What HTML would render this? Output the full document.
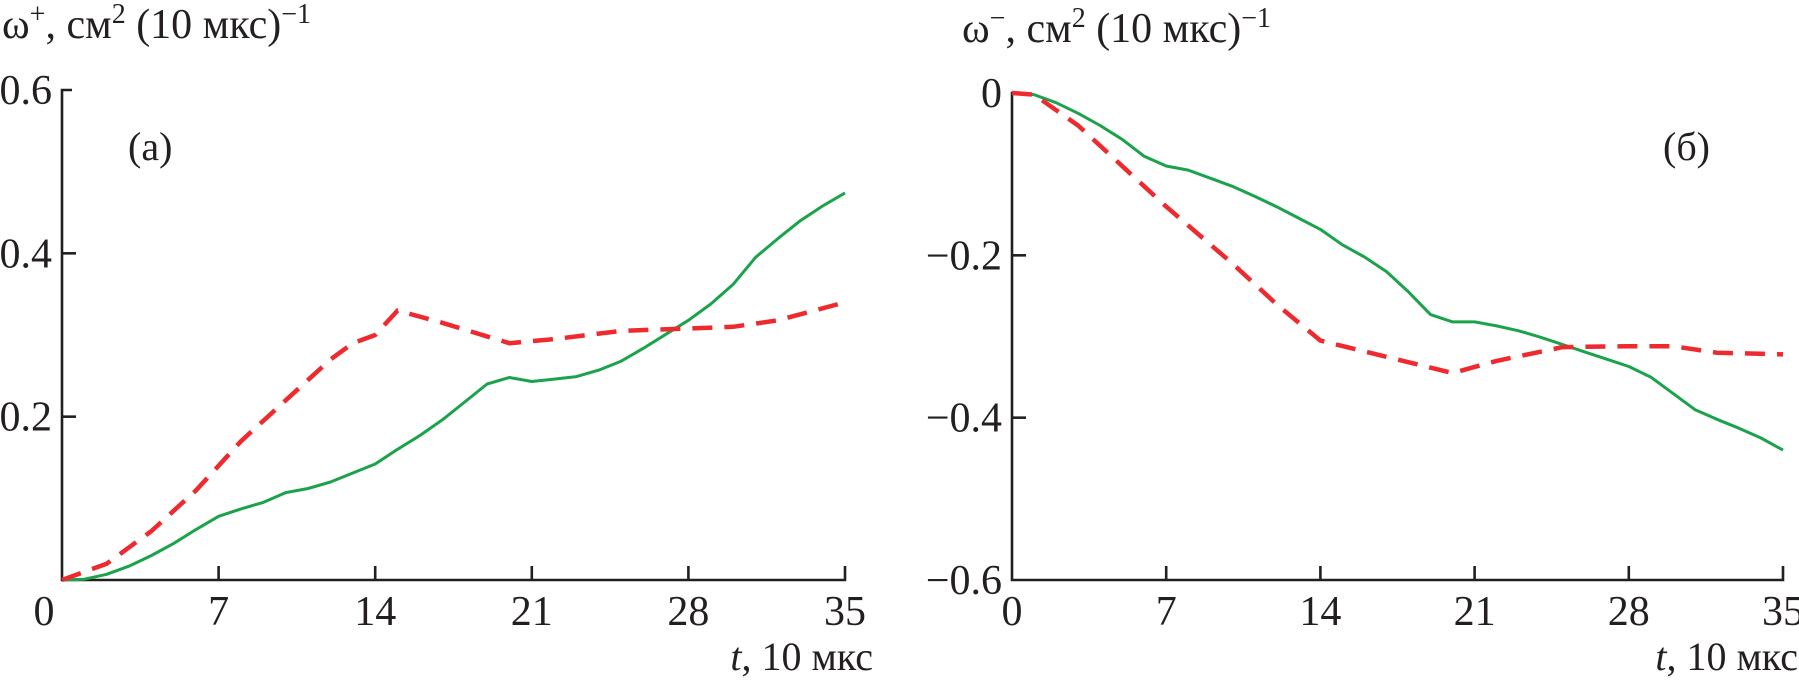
<!DOCTYPE html>
<html><head><meta charset="utf-8">
<style>
html,body{margin:0;padding:0;background:#fff;}
svg{display:block;}
text{font-family:"Liberation Serif",serif;fill:#231f20;}
</style></head>
<body>
<svg id="chart" width="1799" height="681" viewBox="0 0 1799 681" xmlns="http://www.w3.org/2000/svg"></svg>
<script>
const tTicks=[0,7,14,21,28,35];
const aYTicks=[0.2,0.4,0.6];
const aYLabels=["0.2","0.4","0.6"];
const bYTicks=[0,-0.2,-0.4,-0.6];
const bYLabels=["0","\u22120.2","\u22120.4","\u22120.6"];
const aGreenT=[0,1,2,3,4,5,6,7,8,9,10,11,12,13,14,15,16,17,18,19,20,21,22,23,24,25,26,27,28,29,30,31,32,33,34,35];
const aGreenV=[0,0.001,0.007,0.017,0.03,0.045,0.062,0.078,0.087,0.095,0.107,0.112,0.12,0.131,0.142,0.16,0.177,0.196,0.218,0.24,0.248,0.243,0.246,0.249,0.257,0.268,0.284,0.301,0.318,0.338,0.362,0.395,0.418,0.44,0.458,0.474];
const aRedT=[0,2,4,6,8,10,12,13,14,15,17,20,22,25,28,30,32,35];
const aRedV=[0,0.02,0.06,0.11,0.17,0.22,0.27,0.29,0.30,0.33,0.315,0.29,0.295,0.305,0.308,0.31,0.318,0.34];
const bGreenT=[0,1,2,3,4,5,6,7,8,9,10,11,12,13,14,15,16,17,18,19,20,21,22,23,24,25,26,27,28,29,30,31,32,33,34,35];
const bGreenV=[0,-0.002,-0.012,-0.025,-0.04,-0.057,-0.078,-0.09,-0.095,-0.105,-0.115,-0.127,-0.14,-0.154,-0.168,-0.187,-0.202,-0.22,-0.245,-0.273,-0.282,-0.282,-0.287,-0.293,-0.301,-0.31,-0.319,-0.328,-0.337,-0.35,-0.37,-0.39,-0.402,-0.413,-0.425,-0.44];
const bRedT=[0,1,3,7,10,12,14,17,20,22,25,28,30,32,35];
const bRedV=[0,-0.002,-0.04,-0.14,-0.21,-0.26,-0.305,-0.325,-0.345,-0.33,-0.313,-0.312,-0.312,-0.32,-0.322];

const svg=document.getElementById('chart');
const NS="http://www.w3.org/2000/svg";
function mk(tag,attrs,parent){const e=document.createElementNS(NS,tag);for(const k in attrs)e.setAttribute(k,attrs[k]);(parent||svg).appendChild(e);return e;}

function panel(p){
  const g=mk('g',{});
  
  
  const xs=t=>p.x0+(t-0)/35*(p.x1-p.x0);
  const ys=v=>p.yb+(v-p.vmin)/(p.vmax-p.vmin)*(p.yt-p.yb);
  const ax=mk('path',{d:`M${p.x0+10} ${p.yt}H${p.x0}V${p.yb}H${p.x1}V${p.yb-14}`,stroke:'#231f20','stroke-width':2.6,fill:'none'},g);
  
  
  tTicks.forEach((t,i)=>{
    if(i>0&&i<tTicks.length-1){const tk=mk('line',{x1:xs(t),x2:xs(t),y1:p.yb,y2:p.yb-14,stroke:'#231f20','stroke-width':2.6},g);
      
      }
    const tx=mk('text',{x:xs(t)+(i===0?p.zeroShift:0),y:625,'font-size':42,'text-anchor':'middle'},g);
    tx.textContent=String(t);
    
    
  });
  p.yTicks.forEach((v,i)=>{
    if(v!==p.vmin&&v!==p.vmax){const tk=mk('line',{x1:p.x0,x2:p.x0+14,y1:ys(v),y2:ys(v),stroke:'#231f20','stroke-width':2.6},g);
      
      }
    const tx=mk('text',{x:p.x0-10,y:ys(v)+14,'font-size':42,'text-anchor':'end'},g);
    tx.textContent=p.yLabels[i];
    
    
  });
  const line=(T,V,color,dash,name)=>{
    const d=T.map((t,i)=>(i?'L':'M')+xs(t).toFixed(1)+' '+ys(V[i]).toFixed(1)).join('');
    const e=mk('path',{d,stroke:color,'stroke-width':dash?4.5:3,fill:'none','stroke-dasharray':dash||'none','stroke-linejoin':'round'},g);
    
    
  };
  line(p.gT,p.gV,'#1aa34a',null,'green-series');
  line(p.rT,p.rV,'#ee2a2e','20 12','red-dashed-series');
}
panel({name:'panel-a',x0:62,x1:845,yt:90,yb:580,vmin:0,vmax:0.6,zeroShift:-18,yTicks:aYTicks,yLabels:aYLabels,gT:aGreenT,gV:aGreenV,rT:aRedT,rV:aRedV});
panel({name:'panel-b',x0:1012,x1:1783,yt:93,yb:580,vmin:-0.6,vmax:0,zeroShift:0,yTicks:bYTicks,yLabels:bYLabels,gT:bGreenT,gV:bGreenV,rT:bRedT,rV:bRedV});
</script>
<svg style="position:absolute;left:0;top:0" width="1799" height="681">
<text x="2" y="38" font-size="42">ω<tspan dy="-15" font-size="28">+</tspan><tspan dy="15">, см</tspan><tspan dy="-15" font-size="28">2</tspan><tspan dy="15"> (10 мкс)</tspan><tspan dy="-15" font-size="28">−1</tspan></text>
<text x="962" y="42" font-size="42">ω<tspan dy="-15" font-size="28">−</tspan><tspan dy="15">, см</tspan><tspan dy="-15" font-size="28">2</tspan><tspan dy="15"> (10 мкс)</tspan><tspan dy="-15" font-size="28">−1</tspan></text>
<text x="128" y="160" font-size="40">(a)</text>
<text x="1663" y="160" font-size="40">(б)</text>
<text x="873" y="670" font-size="40" text-anchor="end"><tspan font-style="italic">t</tspan>, 10 мкс</text>
<text x="1798" y="670" font-size="40" text-anchor="end"><tspan font-style="italic">t</tspan>, 10 мкс</text>
</svg>
</body></html>
